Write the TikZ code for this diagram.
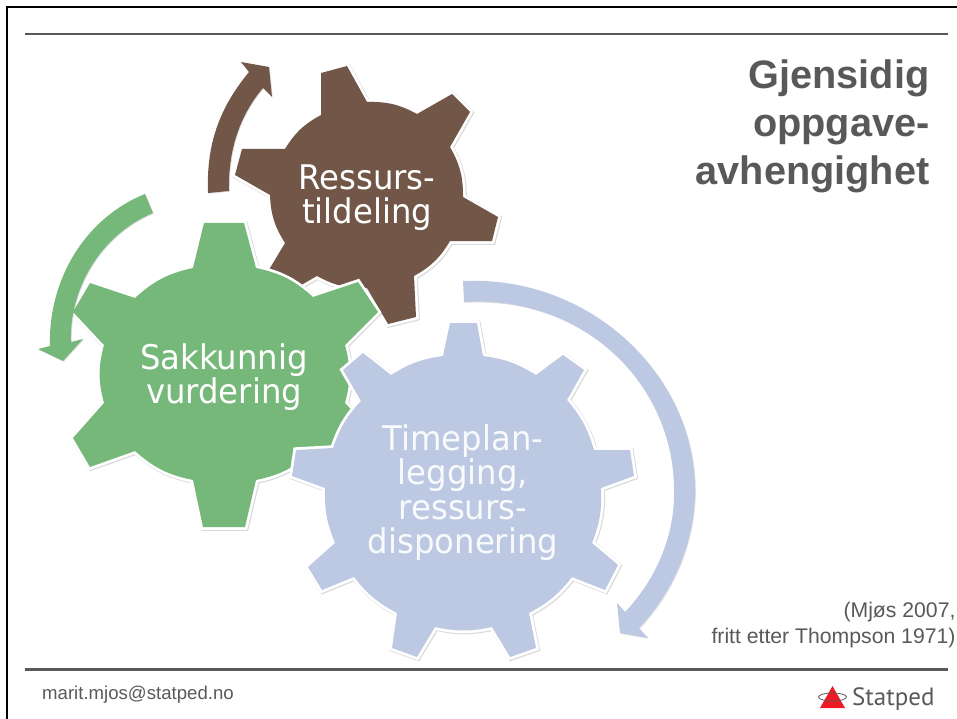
\documentclass[tikz,border=0pt]{standalone}
\usepackage{fontspec}
\setmainfont{Liberation Sans}
\newfontfamily\gearfont[FakeStretch=0.95]{DejaVu Sans}
\newfontfamily\logofont{PT Sans}
\usepackage{tikz}
\usetikzlibrary{shadows}
\definecolor{brownfill}{RGB}{114,87,72}
\definecolor{greenfill}{RGB}{117,184,122}
\definecolor{bluefill}{RGB}{189,201,227}
\definecolor{slidegrey}{RGB}{89,89,89}
\definecolor{logored}{RGB}{237,28,36}

\begin{document}
\begin{tikzpicture}[
        x=1pt, y=-1pt,
        >=stealth,
        gear/.style={
            preaction={draw=black, opacity=0.15, line width=6pt, transform canvas={shift={(0.8pt,-0.8pt)}}},
            preaction={draw=white, line width=5.5pt, line join=miter}},
        ressurs/.style={gear, fill=brownfill},
        sakkunnig/.style={gear, fill=greenfill},
        timeplan/.style={gear, fill=bluefill},
        turn/.style={drop shadow={opacity=0.25, shadow xshift=0.8pt, shadow yshift=-0.8pt}},
        geartext/.style={font=\gearfont\fontsize{34}{34.3}\selectfont, text=white, align=center},
        titletext/.style={font=\bfseries\fontsize{39.7}{48}\selectfont, text=slidegrey, align=right, anchor=north east},
        sourcetext/.style={font=\fontsize{21.2}{26}\selectfont, text=slidegrey, align=right, anchor=east},
    ]
    \useasboundingbox (0,0) rectangle (957,719);

    %Draw the slide frame and the rules
    \fill [black] (6,6) rectangle (957,8);
    \fill [black] (6,6) rectangle (8,719);
    \fill [slidegrey] (25,33.5) rectangle (948,35);
    \fill [slidegrey] (25,668) rectangle (948,671);

    %Draw the brown and the blue turning arrows
    \fill [turn, brownfill] (208,193) .. controls (206,140) and (222,105) .. (249,72)
        -- (241,62) -- (269,67) -- (272,97) -- (263,88)
        .. controls (240,115) and (228,150) .. (229,191) -- cycle;
    \fill [turn, bluefill] (463,281) .. controls (590,275) and (695,375) .. (695,490)
        .. controls (695,540) and (675,590) .. (639,628)
        -- (648,638) -- (620,633) -- (617,603) -- (625,612)
        .. controls (660,575) and (675,530) .. (674,490)
        .. controls (674,385) and (585,295) .. (464,302) -- cycle;

    %Draw the brown gear
    \path [ressurs] (321,73) -- (347,66) -- (367,102) to [bend left=15] (417,114)
        -- (452,94) -- (470,112) -- (450,147) to [bend left=15] (463,197)
        -- (498,217) -- (492,241) -- (450,241) to [bend left=15] (414,276)
        -- (416,317) -- (388,324) -- (367,288) to [bend left=15] (317,276)
        -- (282,296) -- (264,278) -- (285,243) to [bend left=15] (270,195)
        -- (235,175) -- (242,149) -- (285,149) to [bend left=15] (321,115) -- cycle;

    %Draw the green gear
    \path [sakkunnig] (204,223) -- (244,223) -- (256,268) to [bend left=15] (313,297)
        -- (358,282) -- (378,312) -- (345,345) to [bend left=15] (345,403)
        -- (378,438) -- (358,467) -- (313,451) to [bend left=15] (256,480)
        -- (245,527) -- (203,527) -- (193,480) to [bend left=15] (135,451)
        -- (90,467) -- (73,438) -- (104,403) to [bend left=15] (104,345)
        -- (73,312) -- (90,283) -- (135,298) to [bend left=15] (193,268) -- cycle;

    %Draw the green turning arrow; it lies over the tooth of its gear
    \fill [turn, greenfill] (145,194) .. controls (85,218) and (48,280) .. (50,346)
        -- (38,349) -- (63,361) -- (83,339) -- (71,342)
        .. controls (69,290) and (100,235) .. (153,213) -- cycle;

    %Draw the blue gear
    \path [timeplan] (450,323) -- (477,323) -- (483,356) to [bend left=12] (536,375)
        -- (563,355) -- (584,370) -- (567,400) to [bend left=12] (594,450)
        -- (630,450) -- (634,476) -- (601,488) to [bend left=12] (592,543)
        -- (618,565) -- (605,590) -- (572,577) to [bend left=12] (529,613)
        -- (536,648) -- (510,657) -- (492,627) to [bend left=12] (435,627)
        -- (417,657) -- (392,648) -- (397,613) to [bend left=12] (354,577)
        -- (322,590) -- (308,567) -- (335,543) to [bend left=12] (325,488)
        -- (292,476) -- (296,450) -- (333,448) to [bend left=12] (361,401)
        -- (343,370) -- (363,353) -- (391,375) to [bend left=12] (443,356) -- cycle;

    %Draw the gear labels
    \node [geartext] (ressurslabel) at (367,197.5) {Ressurs-\\tildeling};
    \node [geartext] (sakkunniglabel) at (224,377) {Sakkunnig\\vurdering};
    \node [geartext, text=white!90!bluefill] (timeplanlabel) at (463,492.5) {Timeplan-\\legging,\\ressurs-\\disponering};

    %Draw the title and the source
    \node [titletext] (titlelabel) at (933,56.5) {Gjensidig\\oppgave-\\avhengighet};
    \node [sourcetext] (sourcelabel) at (959,625.5) {(Mjøs 2007,\\fritt etter Thompson 1971)};
    \node [font=\fontsize{18.6}{22}\selectfont, text=slidegrey, anchor=west, inner sep=0pt] (maillabel) at (42,695) {marit.mjos@statped.no};

    %Draw the logo
    \fill [logored] (832.5,686) -- (845,708) -- (820,708) -- cycle;
    \draw [slidegrey, line width=0.8pt] (832.5,697) ellipse (14 and 4);
    \node [font=\logofont\fontsize{25}{25}\selectfont, text=slidegrey, anchor=west, inner sep=0pt] (logolabel) at (852,699) {Statped};
\end{tikzpicture}
\end{document}
